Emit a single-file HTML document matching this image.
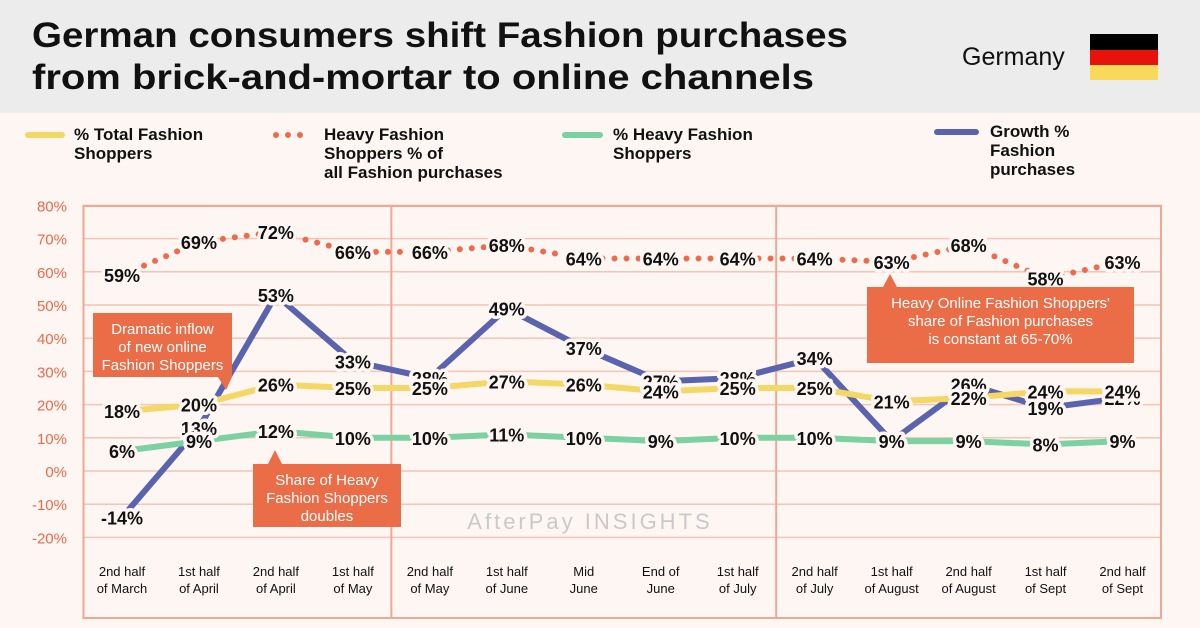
<!DOCTYPE html>
<html><head><meta charset="utf-8"><style>
body{margin:0;width:1200px;height:628px;overflow:hidden;background:#fdf6f3;font-family:"Liberation Sans",sans-serif}
</style></head><body>
<svg id="c" width="1200" height="628" xmlns="http://www.w3.org/2000/svg" style="display:block">
<rect x="0" y="0" width="1200" height="113" fill="#ececec"/>
<text x="32" y="47" font-size="35" font-weight="bold" fill="#111" textLength="816" lengthAdjust="spacingAndGlyphs">German consumers shift Fashion purchases</text>
<text x="32" y="89" font-size="35" font-weight="bold" fill="#111" textLength="782" lengthAdjust="spacingAndGlyphs">from brick-and-mortar to online channels</text>
<text x="962" y="65" font-size="25" fill="#111">Germany</text>
<g>
<rect x="1090" y="34" width="68" height="16" fill="#000"/><rect x="1090" y="50" width="68" height="15" fill="#e8120c"/><rect x="1090" y="65" width="68" height="15" fill="#f8d95a"/></g>
<g font-size="17" font-weight="bold" fill="#111">
<g><line x1="28" y1="135" x2="62" y2="135" stroke="#f5d766" stroke-width="6" stroke-linecap="round"/><text x="74" y="140">% Total Fashion</text><text x="74" y="159">Shoppers</text></g>
<g><line x1="276" y1="135" x2="312" y2="135" stroke="#ef6a4a" stroke-width="6" stroke-linecap="round" stroke-dasharray="0,12"/><text x="324" y="140">Heavy Fashion</text><text x="324" y="159">Shoppers % of</text><text x="324" y="178">all Fashion purchases</text></g>
<g><line x1="565" y1="135" x2="600" y2="135" stroke="#7cd1a1" stroke-width="6" stroke-linecap="round"/><text x="613" y="140">% Heavy Fashion</text><text x="613" y="159">Shoppers</text></g>
<g><line x1="937" y1="132" x2="976" y2="132" stroke="#5a63ad" stroke-width="6" stroke-linecap="round"/><text x="990" y="137">Growth %</text><text x="990" y="156">Fashion</text><text x="990" y="175">purchases</text></g>
</g>
<g id="plot"></g>
</svg>
<script>
const categories=[["2nd half","of March"],["1st half","of April"],["2nd half","of April"],["1st half","of May"],["2nd half","of May"],["1st half","of June"],["Mid","June"],["End of","June"],["1st half","of July"],["2nd half","of July"],["1st half","of August"],["2nd half","of August"],["1st half","of Sept"],["2nd half","of Sept"]];
const totalShoppers=[18,20,26,25,25,27,26,24,25,25,21,22,24,24];
const heavyShare=[59,69,72,66,66,68,64,64,64,64,63,68,58,63];
const heavyShoppers=[6,9,12,10,10,11,10,9,10,10,9,9,8,9];
const growth=[-14,13,53,33,28,49,37,27,28,34,9,26,19,22];
const yTicks=[80,70,60,50,40,30,20,10,0,-10,-20];
const NS="http://www.w3.org/2000/svg";
const g=document.getElementById('plot');
const L=83.5,R=1161,T=206,B=618;
const y=v=>471-v*3.32;
const step=(R-L)/14;
const x=i=>L+step*(i+0.5);
function el(t,a,p){const e=document.createElementNS(NS,t);for(const k in a)e.setAttribute(k,a[k]);(p||g).appendChild(e);return e;}
yTicks.forEach(v=>{
 const ln=el('line',{x1:L,x2:R,y1:y(v),y2:y(v),stroke:'#f5c4b4','stroke-width':1.5});
 
 
 const t=el('text',{x:67,y:y(v)+6,'text-anchor':'end','font-size':15,fill:'#ec6a49'});t.textContent=v+'%';
 
 
});
const fr=el('rect',{x:L,y:T,width:R-L,height:B-T,fill:'none',stroke:'#f0a893','stroke-width':2});


[4,9].forEach(i=>{const d=el('line',{x1:L+step*i,x2:L+step*i,y1:T,y2:B,stroke:'#f0a893','stroke-width':2});
 
 });
categories.forEach((c,i)=>{
 const t=el('text',{x:x(i),'text-anchor':'middle','font-size':13,fill:'#111'});
 
 
 c.forEach((s,j)=>{const ts=el('tspan',{x:x(i),y:576+j*17},t);ts.textContent=s;});
});
const wm=el('text',{x:590,y:529,'text-anchor':'middle','font-size':22,fill:'#c9c9c9','letter-spacing':3});wm.textContent='AfterPay INSIGHTS';


function series(vals,color,name,dotted){
 const pts=vals.map((v,i)=>x(i)+','+y(v)).join(' ');
 const a={points:pts,fill:'none',stroke:color,'stroke-width':6,'stroke-linejoin':'round','stroke-linecap':'round'};
 if(dotted)a['stroke-dasharray']='0,12';
 const p=el('polyline',a);
 
 
}
function labels(vals,name){
 vals.forEach((v,i)=>{
  const t=el('text',{x:x(i),y:y(v)+7,'text-anchor':'middle','font-size':18,'font-weight':'bold',fill:'#111',stroke:'#fdf6f3','stroke-width':7,'paint-order':'stroke','stroke-linejoin':'round'});
  t.textContent=v+'%';
  
  
 });
}
series(heavyShare,'#ef6a4a','heavy-share',true);
series(growth,'#5a63ad','growth');
series(totalShoppers,'#f5d766','total-shoppers');
series(heavyShoppers,'#7cd1a1','heavy-shoppers');
labels(heavyShare,'heavy-share');labels(growth,'growth');labels(totalShoppers,'total-shoppers');labels(heavyShoppers,'heavy-shoppers');
function callout(bx,by,bw,bh,tip,lines,name){
 const grp=el('g',{});
 
 
 el('rect',{x:bx,y:by,width:bw,height:bh,fill:'#ea6d48'},grp);
 el('polygon',{points:tip,fill:'#ea6d48'},grp);
 lines.forEach((s,j)=>{const t=el('text',{x:bx+bw/2,y:by+21+j*18,'text-anchor':'middle','font-size':15,fill:'#fff'},grp);t.textContent=s;});
}
callout(93,313,139,64,'218,377 232,377 226,390',['Dramatic inflow','of new online','Fashion Shoppers'],'callout-inflow');
callout(253,464,148,63,'268,464 282,464 275,450',['Share of Heavy','Fashion Shoppers','doubles'],'callout-doubles');
callout(867,287,267,76,'883,287 897,287 890,274',["Heavy Online Fashion Shoppers'",'share of Fashion purchases','is constant at 65-70%'],'callout-constant');
</script>
</body></html>
